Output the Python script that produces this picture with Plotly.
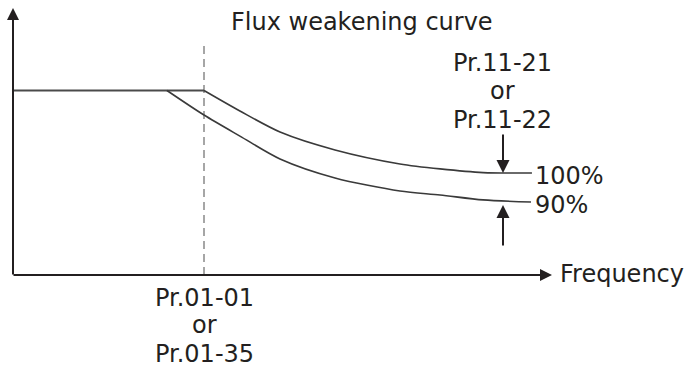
import plotly.graph_objects as go

# ---- data (frequency normalised to base frequency = 1, torque normalised to rated = 1) ----
freq_flat = [0.0, 1.0]
torque_flat = [1.0, 1.0]

freq_100 = [1.0, 1.188, 1.398, 1.686, 2.026, 2.236, 2.461, 2.717]
torque_100 = [1.0, 0.889, 0.775, 0.678, 0.602, 0.575, 0.555, 0.553]

freq_90 = [0.806, 1.0, 1.188, 1.398, 1.686, 2.026, 2.236, 2.461, 2.712]
torque_90 = [1.0, 0.867, 0.753, 0.629, 0.526, 0.455, 0.434, 0.407, 0.396]

base_freq = 1.0
title_text = "Flux weakening curve"
x_label = "Frequency"
y_label = "Torque"
base_labels = ["Pr.01-01", "or", "Pr.01-35"]
weak_labels = ["Pr.11-21", "or", "Pr.11-22"]
curve_labels = ["100%", "90%"]

# ---- layout helpers ----
W, H = 691, 370
X0_PX, XU_PX = 13.0, 191.0      # origin px, px per frequency unit
Y0_PX, YU_PX = 275.0, 184.5     # origin px, px per torque unit


def fx(px):
    return (px - X0_PX) / XU_PX


def fy(py):
    return (Y0_PX - py) / YU_PX


INK = "#231f20"
CURVE = "#3a3a3a"
FONT = dict(family="DejaVu Sans", size=24, color=INK)

fig = go.Figure()

fig.add_trace(go.Scatter(x=freq_flat, y=torque_flat, mode="lines",
                         line=dict(color="#4a4a4a", width=2), hoverinfo="skip"))
fig.add_trace(go.Scatter(x=freq_100, y=torque_100, mode="lines",
                         line=dict(color=CURVE, width=1.6, shape="spline", smoothing=0.8),
                         hoverinfo="skip"))
fig.add_trace(go.Scatter(x=freq_90, y=torque_90, mode="lines",
                         line=dict(color=CURVE, width=1.6, shape="spline", smoothing=0.8),
                         hoverinfo="skip"))

# dashed base-frequency line
fig.add_shape(type="line", x0=base_freq, x1=base_freq, y0=0, y1=fy(46),
              line=dict(color="#a6a6a6", width=2, dash="8px,5px"), layer="below")

annotations = []


def arrow(x_tip, y_tip, x_tail, y_tail, size=1.2):
    annotations.append(dict(x=x_tip, y=y_tip, ax=x_tail, ay=y_tail, xref="x", yref="y",
                            axref="x", ayref="y", text="", showarrow=True,
                            arrowhead=2, arrowwidth=2, arrowsize=size,
                            arrowcolor=INK, standoff=0, startstandoff=0))


# axes
arrow(0, fy(8), 0, fy(276))
arrow(fx(552), 0, fx(12), 0)
# parameter arrows
arrow(fx(503), torque_100[-1], fx(503), fy(133), size=1.3)
arrow(fx(503), fy(205), fx(503), fy(247), size=1.3)


def text(s, xpx, ypx, anchor="left"):
    annotations.append(dict(x=fx(xpx), y=fy(ypx), xref="x", yref="y", text=s,
                            showarrow=False, xanchor=anchor, yanchor="middle",
                            font=FONT, borderpad=0, borderwidth=0))


text(title_text, 231, 21.5)
text(x_label, 560, 274)
text(y_label, 12, -12)
for s, yc in zip(weak_labels, [62.5, 90.5, 119.5]):
    text(s, 502, yc, anchor="center")
for s, yc in zip(base_labels, [297.5, 324.5, 353.5]):
    text(s, 204, yc, anchor="center")
text(curve_labels[0], 535, 176)
text(curve_labels[1], 535, 205)

fig.update_layout(
    width=W, height=H,
    margin=dict(l=0, r=0, t=0, b=0),
    paper_bgcolor="white", plot_bgcolor="white",
    showlegend=False,
    xaxis=dict(range=[fx(0), fx(W)], visible=False, fixedrange=True),
    yaxis=dict(range=[fy(H), fy(0)], visible=False, fixedrange=True),
    annotations=annotations,
)

fig.write_html("out.html", config={"displayModeBar": False},
               post_script="document.body.style.margin='0';document.body.style.overflow='hidden';")
